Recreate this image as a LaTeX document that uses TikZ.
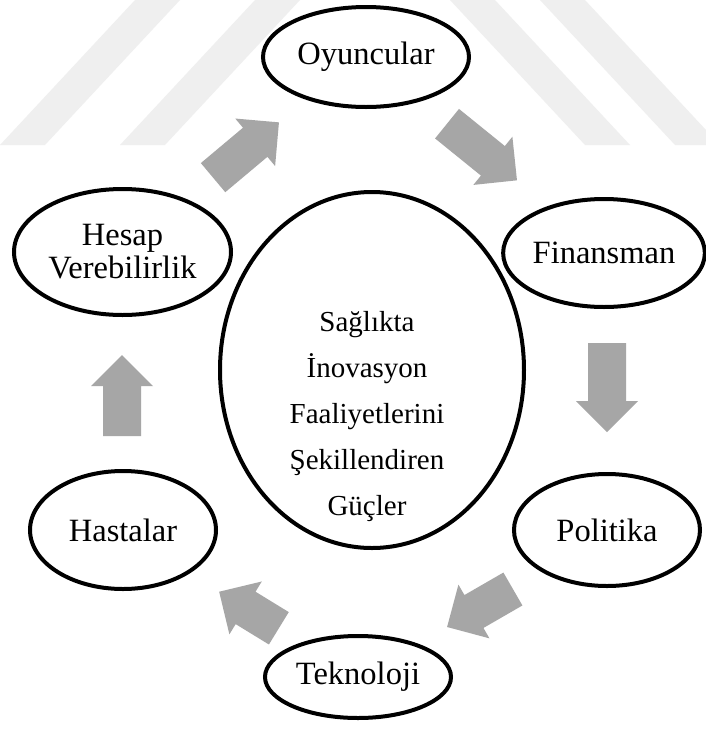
\documentclass[tikz,border=0pt]{standalone}
\usepackage{fontspec}
\setmainfont{Liberation Serif}
\usetikzlibrary{shapes.geometric}
\definecolor{arrowgray}{HTML}{A6A6A6}
\definecolor{markgray}{HTML}{EFEFEF}
\begin{document}
\begin{tikzpicture}[x=1pt,y=-1pt,
  bubble/.style={draw=black, line width=4pt, ellipse, inner sep=0pt,
    fill=white, align=center,
    font=\fontsize{32.5}{33}\selectfont},
  hubtext/.style={align=center, inner sep=0pt,
    font=\fontsize{29}{46}\selectfont},
  pics/barrow/.style={code={
    \fill[arrowgray] (-#1/2,-19) -- (#1/2-31,-19) -- (#1/2-31,-31)
      -- (#1/2,0) -- (#1/2-31,31) -- (#1/2-31,19) -- (-#1/2,19) -- cycle;}}]
% page
\useasboundingbox (0,0) rectangle (706,729);
\fill[white] (0,0) rectangle (706,729);
% faint background stripes along the top
\fill[markgray] (0,145) -- (45,145) -- (180,0) -- (135,0) -- cycle;
\fill[markgray] (120,145) -- (165,145) -- (300,0) -- (255,0) -- cycle;
\fill[markgray] (450,0) -- (495,0) -- (630,145) -- (585,145) -- cycle;
\fill[markgray] (540,0) -- (585,0) -- (706,130) -- (706,145) -- (675,145) -- cycle;
% central circle
\node[draw=black, line width=4pt, ellipse, inner sep=0pt,
  minimum width=304pt, minimum height=356pt] (hub) at (372,370) {};
\node[hubtext] (hublabel) at (367,417)
  {Sağlıkta\\İnovasyon\\Faaliyetlerini\\Şekillendiren\\Güçler};
% surrounding forces
\node[bubble, minimum width=206pt, minimum height=100pt] (oyun) at (366,57) {Oyuncular};
\node[bubble, minimum width=201pt, minimum height=108pt] (fin) at (604,253) {Finansman};
\node[bubble, minimum width=186pt, minimum height=112pt] (pol) at (607,530) {Politika};
\node[bubble, minimum width=186pt, minimum height=82pt] (tek) at (358,677) {Teknoloji};
\node[bubble, minimum width=186pt, minimum height=118pt] (has) at (123,530) {Hastalar};
\node[bubble, minimum width=217pt, minimum height=126pt] (hes) at (122.5,252) {Hesap\\Verebilirlik};
% cycle arrows
\pic[rotate=40] (a1) at (246,150) {barrow=86};
\pic[rotate=-39] (a2) at (482,152) {barrow=90};
\pic[rotate=-90] (a3) at (607,387.5) {barrow=89};
\pic[rotate=210] (a4) at (480,608) {barrow=76};
\pic[rotate=148.5] (a5) at (249,610) {barrow=70};
\pic[rotate=90] (a6) at (122,395.5) {barrow=81};
\end{tikzpicture}
\end{document}
